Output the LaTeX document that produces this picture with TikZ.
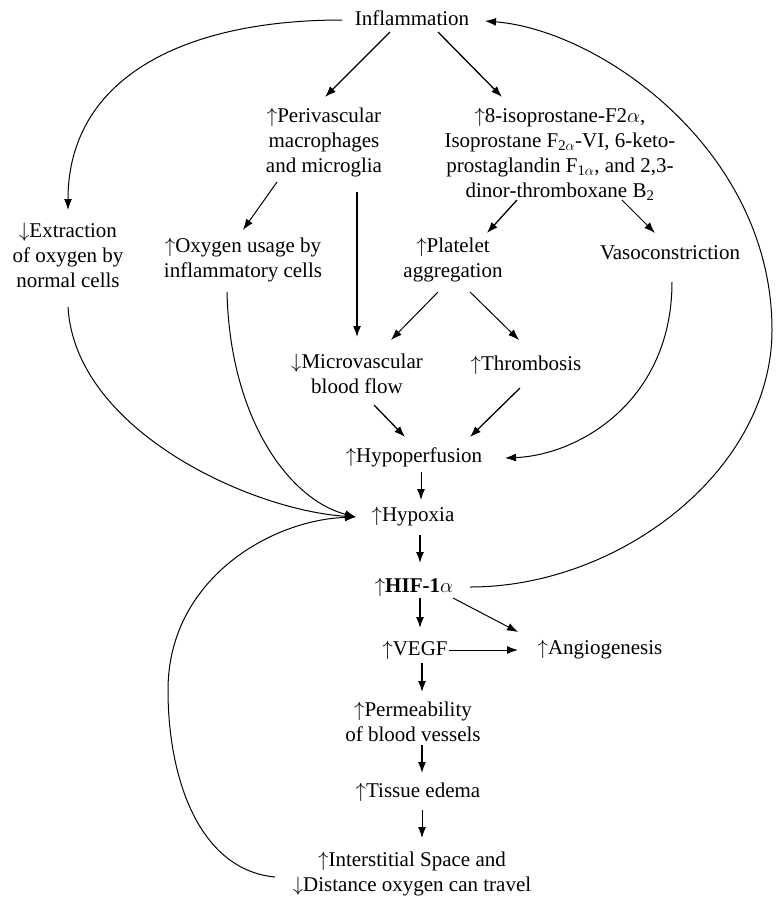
\documentclass[tikz,border=0pt]{standalone}
\usepackage{fontspec}
\setmainfont{Liberation Serif}
\usetikzlibrary{arrows.meta,calc}
\newcommand\upar{$\uparrow$}
\newcommand\dnar{$\downarrow$}

\begin{document}
\begin{tikzpicture}[x=1pt, y=-1pt,
  lbl/.style={align=center, inner sep=1pt, font=\fontsize{21}{25}\selectfont},
  arr/.style={line width=1.3pt, -{Latex[length=11pt,width=8pt]}},
  thinarr/.style={arr, line width=1pt}]
  \useasboundingbox (0,0) rectangle (776,898);
  % boxes of text
  \node[lbl] (infl) at (412,18) {Inflammation};
  \node[lbl] (peri) at (324,142) {\upar Perivascular\\macrophages\\and microglia};
  \node[lbl] (iso) at (560,154) {\upar 8-isoprostane-F2$\alpha$,\\Isoprostane F\textsubscript{2$\alpha$}-VI, 6-keto-\\prostaglandin F\textsubscript{1$\alpha$}, and 2,3-\\dinor-thromboxane B\textsubscript{2}};
  \node[lbl] (extr) at (68,255) {\dnar Extraction\\of oxygen by\\normal cells};
  \node[lbl] (oxus) at (243,260) {\upar Oxygen usage by\\inflammatory cells};
  \node[lbl] (plat) at (453,260) {\upar Platelet\\aggregation};
  \node[lbl] (vaso) at (670,253) {Vasoconstriction};
  \node[lbl] (micro) at (357,374) {\dnar Microvascular\\blood flow};
  \node[lbl] (thromb) at (526,365) {\upar Thrombosis};
  \node[lbl] (hypoperf) at (414,457) {\upar Hypoperfusion};
  \node[lbl] (hypox) at (413,517) {\upar Hypoxia};
  \node[lbl] (hif) at (414,587) {\upar\textbf{HIF-1}$\alpha$};
  \node[lbl] (vegf) at (415,650) {\upar VEGF};
  \node[lbl] (angio) at (600,650) {\upar Angiogenesis};
  \node[lbl] (perm) at (413,722) {\upar Permeability\\of blood vessels};
  \node[lbl] (tissue) at (418,792) {\upar Tissue edema};
  \node[lbl] (inter) at (412,874) {\upar Interstitial Space and\\\dnar Distance oxygen can travel};

  % straight arrows
  \draw[arr] ($(infl)+(-22,14)$) -- ($(peri)+(1,-45)$);
  \draw[arr] ($(infl)+(26,14)$) -- ($(iso)+(-58,-57)$);
  \draw[thinarr] ($(peri)+(-47,40)$) -- ($(oxus)+(0,-30)$);
  \draw[arr] ($(peri)+(33,50)$) -- ($(micro)+(0,-37)$);
  \draw[arr] ($(iso)+(-43,46)$) -- ($(plat)+(34,-27)$);
  \draw[thinarr] ($(iso)+(62,46)$) -- ($(vaso)+(-15,-20)$);
  \draw[thinarr] ($(plat)+(-15,32)$) -- ($(micro)+(34,-34)$);
  \draw[thinarr] ($(plat)+(17,32)$) -- ($(thromb)+(-7,-25)$);
  \draw[arr] ($(micro)+(17,31)$) -- ($(hypoperf)+(-9,-20)$);
  \draw[arr] ($(thromb)+(-6,23)$) -- ($(hypoperf)+(56,-20)$);
  \draw[thinarr] ($(hypoperf)+(7,15)$) -- ($(hypox)+(8,-17)$);
  \draw[arr] ($(hypox)+(7,18)$) -- ($(hif)+(6,-24)$);
  \draw[arr] ($(hif)+(6,11)$) -- ($(vegf)+(5,-22)$);
  \draw[thinarr] ($(hif)+(39,11)$) -- ($(angio)+(-82,-18)$);
  \draw[thinarr] (vegf.east) -- ($(angio)+(-82,0)$);
  \draw[arr] ($(vegf)+(7,13)$) -- ($(perm)+(9,-30)$);
  \draw[arr] ($(perm)+(9,23)$) -- ($(tissue)+(4,-19)$);
  \draw[thinarr] ($(tissue)+(4,18)$) -- ($(inter)+(10,-36)$);

  % curved arrows
  \draw[thinarr] ($(infl)+(-70,2)$) .. controls (180,20) and (68,80) .. ($(extr)+(0,-45)$);
  \draw[thinarr] ($(vaso)+(2,29)$) .. controls (672,400) and (580,455) .. ($(hypoperf)+(91,1)$);
  \draw[thinarr] ($(extr)+(0,52)$) .. controls (75,430) and (250,510) .. ($(hypox)+(-57,0)$);
  \draw[thinarr] ($(oxus)+(-16,32)$) .. controls (230,420) and (290,500) .. ($(hypox)+(-57,0)$);
  \draw[thinarr] ($(inter)+(-137,3)$) .. controls (200,870) and (168,780) .. (168,690)
    .. controls (168,580) and (270,520) .. ($(hypox)+(-57,0)$);
  \draw[thinarr] ($(hif)+(56,0)$) .. controls (620,587) and (772,470) .. (772,330)
    .. controls (772,150) and (600,30) .. ($(infl)+(73,3)$);
\end{tikzpicture}
\end{document}
